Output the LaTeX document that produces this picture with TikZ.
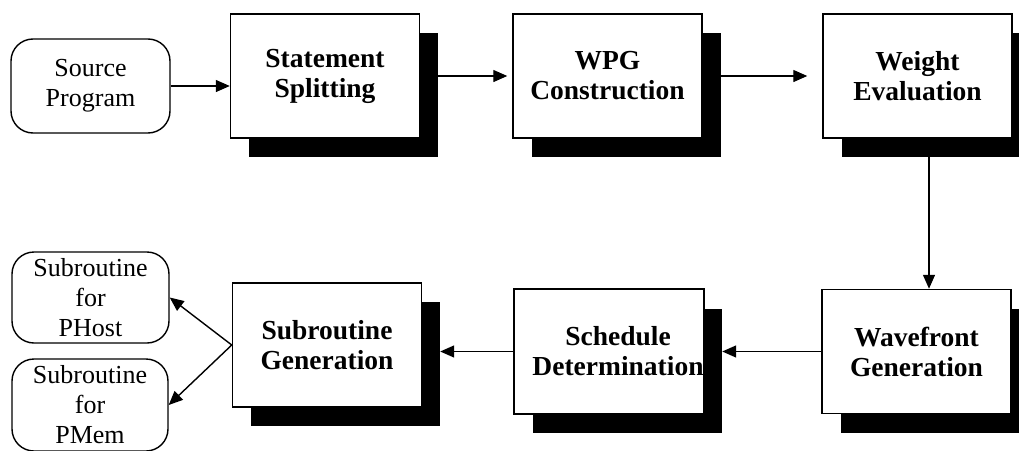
\documentclass[tikz,border=0pt]{standalone}
\usepackage{fontspec}
\setmainfont{Liberation Serif}
\usetikzlibrary{arrows.meta,calc}
\begin{document}
\begin{tikzpicture}[x=1pt,y=-1pt,
  stage/.style={draw,fill=white,line width=1.5pt,minimum width=189pt,minimum height=124pt,
    inner sep=0pt,align=center,font=\fontsize{27.5}{30}\selectfont\bfseries},
  stagetext/.style={inner sep=0pt,align=center,font=\fontsize{27.5}{30}\selectfont\bfseries},
  shade/.style={fill=black,minimum width=189pt,minimum height=124pt,inner sep=0pt},
  term/.style={draw,fill=white,rounded corners=22pt,line width=1.4pt,inner sep=0pt,
    align=center,font=\fontsize{26}{30}\selectfont},
  arr/.style={line width=1.4pt,-{Triangle[length=14pt,width=12pt]}}]
\useasboundingbox (0,0) rectangle (1019,450);
\clip (0,0) rectangle (1019,450);

% drop shadows of the processing stages
\node[shade] (ss-sh)  at (343.5,95)   {};
\node[shade] (wpg-sh) at (626,95)     {};
\node[shade] (we-sh)  at (936,95)     {};
\node[shade] (wf-sh)  at (935,370.5)  {};
\node[shade] (sd-sh)  at (627.5,370.5){};
\node[shade] (sg-sh)  at (345.5,364)  {};

% processing stages
\node[stage] (ss)  at (325,76)    {Statement\\Splitting};
\node[stage] (wpg) at (607.5,76)  {WPG\\Construction};
\node[stage] (we)  at (917.5,76)  {Weight\\Evaluation};
\node[stage] (wf)  at (916.5,351.5) {Wavefront\\Generation};
\node[stage] (sd)  at (609,351.5) {};
\begin{scope}
  \clip (sd.south west) rectangle (sd.north east);
  \node[stagetext] (sd-t) at ([xshift=9pt]sd.center) {Schedule\\Determination};
\end{scope}
\draw[line width=1.5pt] (sd.south west) rectangle (sd.north east);
\node[stage] (sg)  at (327,345)   {Subroutine\\Generation};

% input and outputs
\node[term,minimum width=159pt,minimum height=94pt] (src) at (90.5,86)  {Source\\Program};
\node[term,minimum width=157pt,minimum height=91pt] (ph)  at (90.5,297.5) {Subroutine\\for\\PHost};
\node[term,minimum width=156pt,minimum height=92pt] (pm)  at (90,405)   {Subroutine\\for\\PMem};

% flow
\draw[arr] (src.east) -- (src.east -| ss.west);
\draw[arr,shorten >=5pt] (ss.east -| ss-sh.east) -- (wpg.west);
\draw[arr,shorten >=15pt] (wpg.east -| wpg-sh.east) -- (we.west);
\draw[arr] ([xshift=11.5pt]we.south |- we-sh.south) -- ([xshift=11.5pt]we.south |- wf.north);
\draw[arr] (wf.west) -- (wf.west -| sd-sh.east);
\draw[arr] (sd.west) -- (sd.west -| sg-sh.east);
\draw[arr] (sg.west) -- (ph.east);
\draw[arr] (sg.west) -- (pm.east);
\end{tikzpicture}
\end{document}
